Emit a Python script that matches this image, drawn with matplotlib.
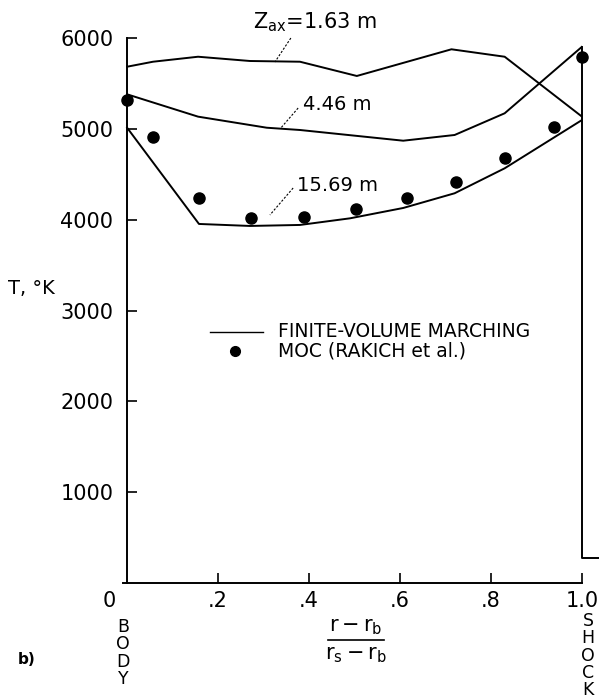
import numpy as np
import matplotlib.pyplot as plt

plt.rcParams['font.family'] = 'DejaVu Sans'
plt.rcParams['mathtext.fontset'] = 'dejavusans'

# temperature profiles, finite-volume marching
R_163 = [0, 0.057, 0.156, 0.27, 0.38, 0.505, 0.713, 0.83, 1.0]
T_163 = [5687, 5742, 5797, 5750, 5742, 5585, 5879, 5797, 5137]

R_446 = [0, 0.156, 0.307, 0.38, 0.607, 0.72, 0.83, 1.0]
T_446 = [5383, 5137, 5015, 4990, 4872, 4935, 5174, 5907]

R_1569 = [0, 0.158, 0.27, 0.38, 0.49, 0.607, 0.72, 0.83, 1.0]
T_1569 = [5015, 3955, 3933, 3944, 4017, 4131, 4293, 4568, 5100]

# MOC (Rakich et al.)
MOC_R = [0, 0.056, 0.158, 0.272, 0.389, 0.503, 0.616, 0.723, 0.831, 0.938, 1.0]
MOC_T = [5320, 4910, 4245, 4018, 4035, 4117, 4245, 4421, 4678, 5018, 5797]

# shock line
SHOCK_R = [1.0, 1.0, 1.037]
SHOCK_T = [5907, 280, 280]

XTICKS = [0.2, 0.4, 0.6, 0.8, 1.0]
XTICK_LABELS = ['.2', '.4', '.6', '.8', '1.0']
YTICKS = [1000, 2000, 3000, 4000, 5000, 6000]

fig = plt.figure(figsize=(5.99, 7.0), dpi=100)
ax = fig.add_axes([123/599, 117/700, 459/599, 544.7/700])

lw = 1.4
ax.plot(R_163, T_163, c='k', lw=lw)
ax.plot(R_446, T_446, c='k', lw=lw)
ax.plot(R_1569, T_1569, c='k', lw=lw)
ax.plot(SHOCK_R, SHOCK_T, c='k', lw=lw, clip_on=False)
ax.plot(MOC_R, MOC_T, 'o', c='k', ms=8, clip_on=False)

# leaders + station labels
dash = (0, (2, 1.5))
ax.plot([0.360, 0.325], [6003, 5739], c='k', lw=0.8, ls=dash, clip_on=False)
ax.plot([0.376, 0.338], [5232, 5012], c='k', lw=0.8, ls=dash)
ax.plot([0.365, 0.314], [4351, 4054], c='k', lw=0.8, ls=dash)
ax.text(0.277, 6180, r'$\mathregular{Z_{ax}}$=1.63 m', fontsize=15, va='center')
ax.text(0.387, 5276, '4.46 m', fontsize=14, va='center')
ax.text(0.374, 4384, '15.69 m', fontsize=14, va='center')

# legend drawn by hand
ax.plot([0.182, 0.299], [2765, 2765], c='k', lw=1.0)
ax.plot([0.237], [2560], 'o', c='k', ms=7)
ax.text(0.332, 2765, 'FINITE-VOLUME MARCHING', fontsize=13.5, va='center')
ax.text(0.332, 2560, 'MOC (RAKICH et al.)', fontsize=13.5, va='center')

ax.set_xlim(-0.009, 1.0)
ax.set_ylim(0, 6000)
ax.spines['left'].set_position(('data', 0))
ax.spines['top'].set_visible(False)
ax.spines['right'].set_visible(False)
ax.spines['left'].set_linewidth(1.4)
ax.spines['bottom'].set_linewidth(1.4)

ax.set_xticks(XTICKS)
ax.set_xticklabels(XTICK_LABELS)
ax.set_yticks(YTICKS)
ax.tick_params(direction='in', length=7, width=1.2, labelsize=15)
ax.tick_params(axis='y', pad=10)
ax.tick_params(axis='x', pad=6)

ax.text(-0.04, -200, '0', fontsize=15, ha='center', va='center')

fig.text(8/599, 1 - 289/700, 'T, °K', fontsize=14, va='center')
fig.text(123/599, 1 - 618/700, 'B\nO\nD\nY', fontsize=12.5, ha='center', va='top', linespacing=0.95)
fig.text(588/599, 1 - 612/700, 'S\nH\nO\nC\nK', fontsize=12.5, ha='center', va='top', linespacing=0.95)

# x label as a stacked fraction
fig.text(356/599, 1 - 627/700, r'$\mathregular{r - r_b}$', fontsize=15, ha='center', va='center')
fig.add_artist(plt.Line2D([328/599, 384/599], [1 - 640/700, 1 - 640/700], color='k', lw=1.2))
fig.text(356/599, 1 - 655/700, r'$\mathregular{r_s - r_b}$', fontsize=15, ha='center', va='center')

fig.text(18/599, 1 - 660/700, 'b)', fontsize=11, fontweight='bold', va='center')

fig.savefig('out.png', dpi=100)
